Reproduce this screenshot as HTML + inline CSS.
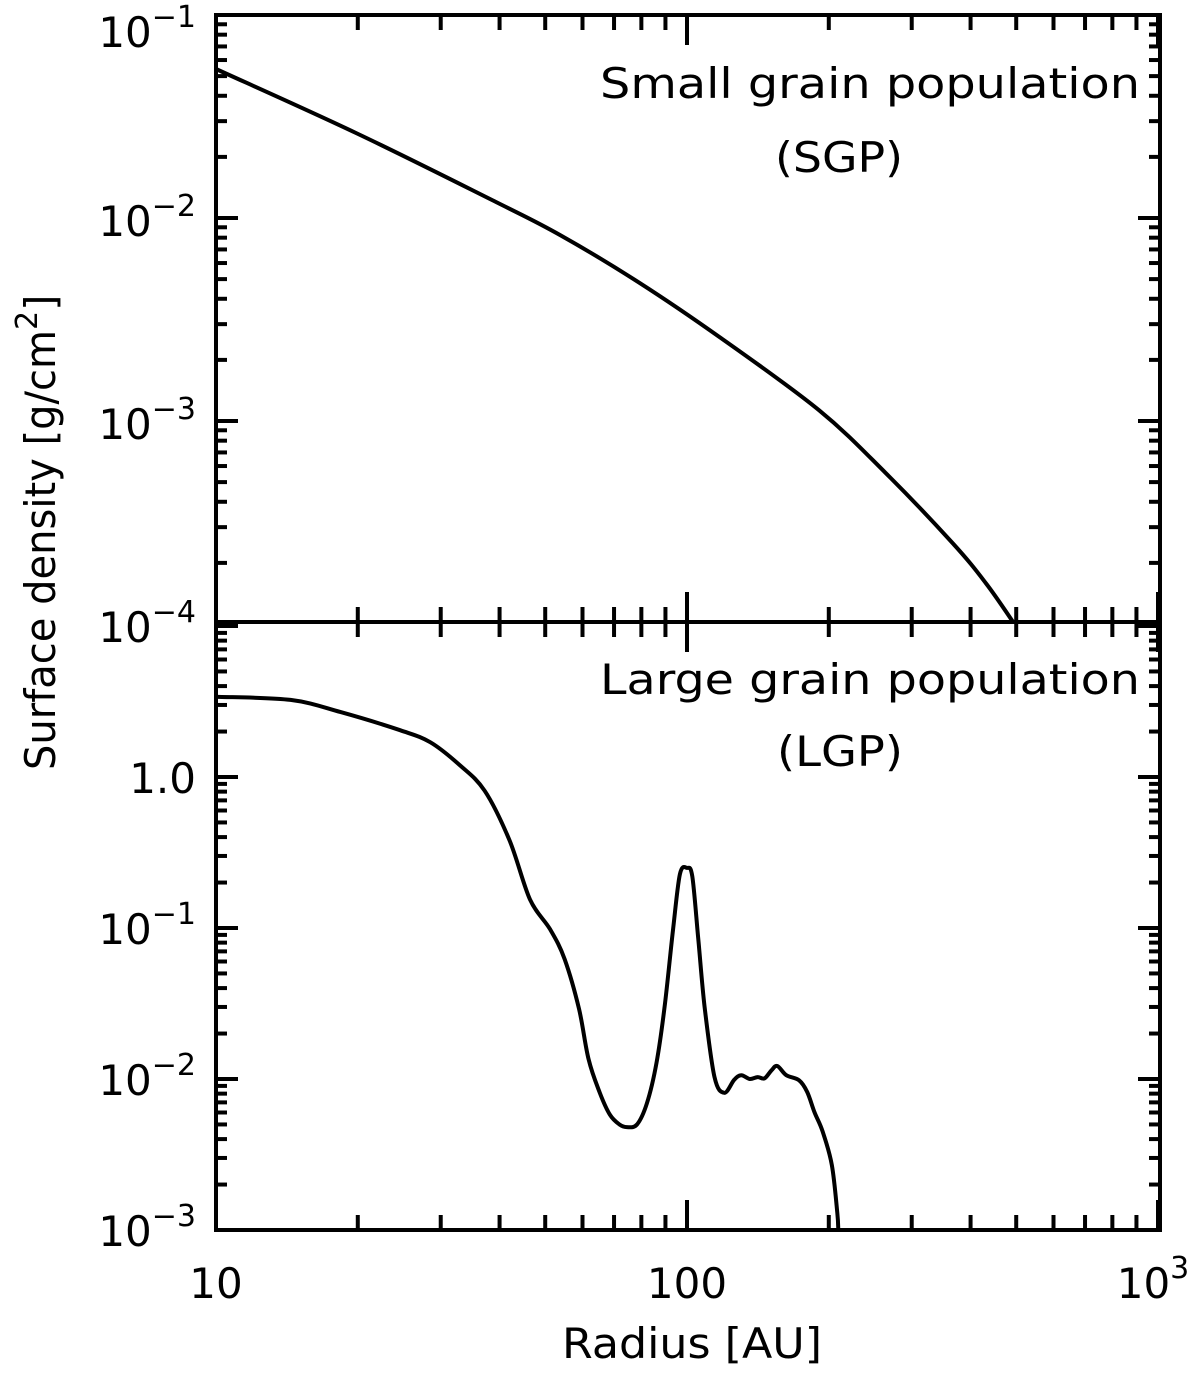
<!DOCTYPE html>
<html><head><meta charset="utf-8"><style>
body{margin:0;background:#fff;}
svg text{font-family:"DejaVu Sans","Liberation Sans",sans-serif;fill:#000;}
</style></head><body>
<svg id="chart" width="1200" height="1376" viewBox="0 0 1200 1376" xmlns="http://www.w3.org/2000/svg"></svg>
<script>
const sgpRadius=[10,19.83,39.3,53.8,79.3,117.3,190.7,264,366,431,493];
const sgpDensity=[0.0542,0.02624,0.01199,0.00824,0.00479,0.00259,0.00113,0.000555,0.000251,0.000159,0.000102];
const lgpRadius=[10,14.4,18.4,24.6,28.5,32.9,37.2,42,46.4,51.2,55,59,61.8,65.3,68.6,71.9,74.5,78.3,82.2,86.2,89.8,93.4,96.6,100,102.6,105.6,109,114.4,120,126,130.4,135.9,141.3,146.1,151.1,155.5,162.5,173,180,186.6,194,203,208.5,209.5];
const lgpDensity=[3.4,3.24,2.69,2.04,1.70,1.2,0.81,0.38,0.155,0.098,0.062,0.029,0.0135,0.0081,0.0058,0.0050,0.0048,0.0050,0.0069,0.0129,0.0316,0.097,0.227,0.25,0.22,0.087,0.030,0.0103,0.0081,0.0099,0.0106,0.0100,0.0103,0.0101,0.0114,0.0122,0.0106,0.0098,0.0082,0.0060,0.0045,0.0027,0.0013,0.001];
const topTickExps=[-1,-2,-3,-4];
const botTickLabels=["1.0","10⁻¹","10⁻²","10⁻³"];

const NS="http://www.w3.org/2000/svg";
const svg=document.getElementById('chart');
const X0=216,X1=1160,PXD=471;
const xs=r=>X0+PXD*(Math.log10(r)-1);
const yTop=v=>15+203*(-1-Math.log10(v));
const yBot=v=>1230-151*(Math.log10(v)+3);
function mk(tag,attrs,parent){const e=document.createElementNS(NS,tag);for(const k in attrs)e.setAttribute(k,attrs[k]);(parent||svg).appendChild(e);return e;}
function line(x1,y1,x2,y2,g){return mk('line',{x1,y1,x2,y2,stroke:'#000','stroke-width':4},g);}
function smoothPath(pts){let d='M'+pts[0][0].toFixed(1)+','+pts[0][1].toFixed(1);
 for(let i=0;i<pts.length-1;i++){const p0=pts[Math.max(i-1,0)],p1=pts[i],p2=pts[i+1],p3=pts[Math.min(i+2,pts.length-1)];
  const c1=[p1[0]+(p2[0]-p0[0])/6,p1[1]+(p2[1]-p0[1])/6],c2=[p2[0]-(p3[0]-p1[0])/6,p2[1]-(p3[1]-p1[1])/6];
  d+='C'+c1.map(v=>v.toFixed(1)).join(',')+' '+c2.map(v=>v.toFixed(1)).join(',')+' '+p2[0].toFixed(1)+','+p2[1].toFixed(1);}
 return d;}

const frame=mk('g',{});


mk('rect',{x:X0,y:15,width:X1-X0,height:1215,fill:'none',stroke:'#000','stroke-width':4},frame);
line(X0,622,X1,622,frame);

const xt=mk('g',{});


for(let d=10;d<=100;d*=10){for(let m=1;m<=10;m++){const r=d*m;if(r>1000)continue;const x=xs(r);const L=(m===1||m===10)?30:15;
 [[15,1],[622,-1],[622,1],[1230,-1]].forEach(([y,s])=>line(x,y,x,y+s*L,xt));}}

const yt=mk('g',{});


for(let e=-4;e<=-2;e++){for(let m=1;m<=10;m++){const v=m*Math.pow(10,e);const y=yTop(v);const L=(m===1||m===10)?22:11;line(X0,y,X0+L,y,yt);line(X1,y,X1-L,y,yt);}}
for(let e=-3;e<=1;e++){for(let m=1;m<10;m++){const v=m*Math.pow(10,e);const y=yBot(v);if(y<622||y>1230)continue;const L=(m===1)?22:11;line(X0,y,X0+L,y,yt);line(X1,y,X1-L,y,yt);}}

topTickExps.forEach(e=>{let yy=yTop(Math.pow(10,e))+18;if(e===-1)yy=47;
 const t=mk('text',{x:196,y:yy,'text-anchor':'end','font-size':42});
 
 
 t.innerHTML='10<tspan dy="-20" font-size="30">−'+(-e)+'</tspan>';});
const botVals=[1,0.1,0.01,0.001];
botVals.forEach((v,i)=>{const t=mk('text',{x:196,y:yBot(v)+16,'text-anchor':'end','font-size':42});
 
 
 if(i===0)t.textContent=botTickLabels[0];else t.innerHTML='10<tspan dy="-20" font-size="30">−'+i+'</tspan>';});

[[10,'10'],[100,'100']].forEach(([r,s])=>{const t=mk('text',{x:xs(r),y:1298,'text-anchor':'middle','font-size':42});
 
 
 t.textContent=s;});
const t3=mk('text',{x:xs(1000)-5,y:1298,'text-anchor':'middle','font-size':42});


t3.innerHTML='10<tspan dy="-20" font-size="30">3</tspan>';

const xtitle=mk('text',{x:562,y:1358,'font-size':42,textLength:260,lengthAdjust:'spacingAndGlyphs'});


xtitle.textContent='Radius [AU]';
const ytitle=mk('text',{x:0,y:0,'font-size':42,transform:'translate(55,770) rotate(-90)'});


ytitle.innerHTML='<tspan textLength="440" lengthAdjust="spacingAndGlyphs">Surface density [g/cm</tspan><tspan dy="-18" font-size="30">2</tspan><tspan dy="18">]</tspan>';

[['Small grain population',600,98,540,'sgp-label'],['(SGP)',775,172,128,'sgp-abbrev'],['Large grain population',600,694,540,'lgp-label'],['(LGP)',777,766,126,'lgp-abbrev']].forEach(a=>{
 const t=mk('text',{x:a[1],y:a[2],'font-size':42,textLength:a[3],lengthAdjust:'spacingAndGlyphs'});
 
 
 t.textContent=a[0];});

const p1=mk('path',{d:smoothPath(sgpRadius.map((r,i)=>[xs(r),yTop(sgpDensity[i])])),fill:'none',stroke:'#000','stroke-width':4,'stroke-linejoin':'round'});


const p2=mk('path',{d:smoothPath(lgpRadius.map((r,i)=>[xs(r),yBot(lgpDensity[i])])),fill:'none',stroke:'#000','stroke-width':4,'stroke-linejoin':'round'});


</script>
</body></html>
